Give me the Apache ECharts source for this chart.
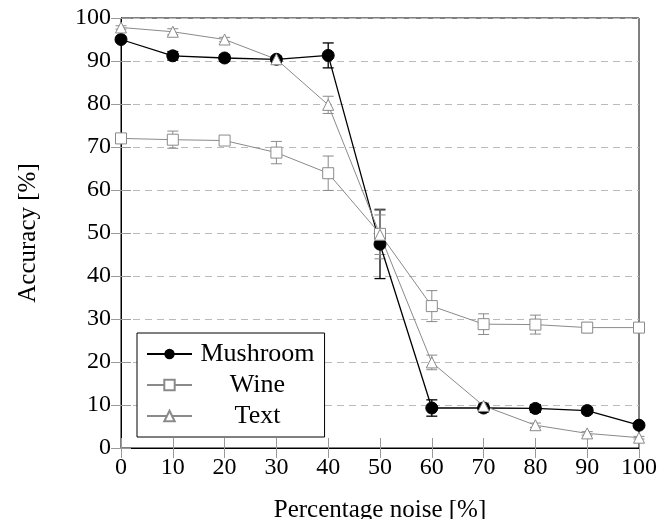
<!DOCTYPE html>
<html>
<head>
<meta charset="utf-8">
<script src="https://cdn.jsdelivr.net/npm/echarts@6/dist/echarts.min.js"></script>
<style>html,body{margin:0;padding:0;background:#fff}#c{width:672px;height:519px}</style>
</head>
<body>
<div id="c"></div>
<script>
const noise = [0, 10, 20, 30, 40, 50, 60, 70, 80, 90, 100];
const mushroom = [95.0, 91.2, 90.7, 90.4, 91.3, 47.4, 9.3, 9.3, 9.2, 8.7, 5.3];
const mushroomErr = [0.5, 1.0, 0.8, 0.6, 2.9, 8.0, 1.9, 0.9, 0.9, 0.7, 0.5];
const wine = [72.0, 71.7, 71.5, 68.7, 63.9, 49.8, 33.0, 28.8, 28.7, 28.0, 28.0];
const wineErr = [0.8, 2.0, 0.8, 2.6, 4.0, 5.8, 3.6, 2.4, 2.2, 1.2, 0.9];
const textAcc = [97.8, 96.8, 95.0, 90.4, 79.8, 49.6, 19.9, 9.8, 5.3, 3.4, 2.4];
const textErr = [0.4, 0.7, 0.5, 0.8, 2.0, 4.6, 1.7, 0.7, 0.5, 0.4, 0.3];
const seriesNames = ['Mushroom', 'Wine', 'Text'];
const xTitle = 'Percentage noise [%]';
const yTitle = 'Accuracy [%]';

const FONT = 'Liberation Serif';
const BLACK = '#000';
const GREY = '#8a8a8a';

function pts(vals) { return noise.map((x, i) => [x, vals[i]]); }
function errData(vals, errs) { return noise.map((x, i) => [x, vals[i], errs[i]]); }
function errSeries(name, vals, errs, color, lw) {
  return {
    type: 'custom', name: name + ' err', silent: true,
    data: errData(vals, errs), encode: { x: 0, y: 1 },
    renderItem: function (params, api) {
      const x = api.value(0), y = api.value(1), e = api.value(2);
      const t = api.coord([x, y + e]), b = api.coord([x, y - e]);
      const w = 5.5;
      const st = { stroke: color, lineWidth: lw, fill: null };
      return { type: 'group', children: [
        { type: 'line', shape: { x1: t[0], y1: t[1], x2: b[0], y2: b[1] }, style: st },
        { type: 'line', shape: { x1: t[0] - w, y1: t[1], x2: t[0] + w, y2: t[1] }, style: st },
        { type: 'line', shape: { x1: b[0] - w, y1: b[1], x2: b[0] + w, y2: b[1] }, style: st }
      ]};
    }
  };
}

const chart = echarts.init(document.getElementById('c'));
chart.setOption({
  animation: false,
  backgroundColor: '#fff',
  textStyle: { fontFamily: FONT },
  grid: { left: 121, right: 33, top: 18, bottom: 71, show: true, borderColor: BLACK, borderWidth: 1,
    outerBoundsMode: 'none', containLabel: false },
  legend: {
    data: seriesNames, orient: 'vertical', left: 137, top: 333,
    padding: [8, 10, 8, 9], itemGap: 5, itemWidth: 45, itemHeight: 13,
    backgroundColor: '#fff', borderColor: BLACK, borderWidth: 1,
    formatter: n => '{c|' + n + '}',
    textStyle: { fontFamily: FONT, fontSize: 26, color: BLACK,
      rich: { c: { width: 121, align: 'center', fontFamily: FONT, fontSize: 26, color: BLACK } } }
  },
  xAxis: [{
    type: 'value', min: 0, max: 100, interval: 10,
    name: xTitle, nameLocation: 'middle', nameGap: 50,
    nameTextStyle: { fontFamily: FONT, fontSize: 25, color: BLACK },
    axisLine: { lineStyle: { color: BLACK, width: 1 } },
    axisTick: { inside: true, length: 10, lineStyle: { color: '#999' } },
    axisLabel: { fontFamily: FONT, fontSize: 24, color: BLACK, margin: 8 },
    splitLine: { show: false }
  }, {
    type: 'value', min: 0, max: 100, interval: 10, position: 'top',
    axisLine: { show: false }, axisLabel: { show: false },
    axisTick: { inside: true, length: 10, lineStyle: { color: '#999' } },
    splitLine: { show: false }
  }],
  yAxis: [{
    type: 'value', min: 0, max: 100, interval: 10,
    name: yTitle, nameLocation: 'middle', nameGap: 80, nameRotate: 90,
    nameTextStyle: { fontFamily: FONT, fontSize: 25, color: BLACK },
    axisLine: { show: true, lineStyle: { color: BLACK, width: 1 } },
    axisTick: { show: true, inside: true, length: 10, lineStyle: { color: '#999' } },
    axisLabel: { fontFamily: FONT, fontSize: 24, color: BLACK, margin: 10 },
    splitLine: { show: true, lineStyle: { color: '#bbb', type: [7, 5], width: 1 } }
  }, {
    type: 'value', min: 0, max: 100, interval: 10, position: 'right',
    axisLine: { show: false }, axisLabel: { show: false },
    axisTick: { show: true, inside: true, length: 10, lineStyle: { color: '#999' } },
    splitLine: { show: false }
  }],
  series: [
    { type: 'line', name: seriesNames[0], data: pts(mushroom), symbol: 'circle', symbolSize: 12,
      lineStyle: { color: BLACK, width: 1.3 }, itemStyle: { color: BLACK, borderColor: BLACK } },
    errSeries(seriesNames[0], mushroom, mushroomErr, BLACK, 1.3),
    { type: 'line', name: seriesNames[1], data: pts(wine), symbol: 'rect', symbolSize: 11,
      lineStyle: { color: GREY, width: 1 }, itemStyle: { color: '#fff', borderColor: GREY, borderWidth: 1 } },
    errSeries(seriesNames[1], wine, wineErr, GREY, 1),
    { type: 'line', name: seriesNames[2], data: pts(textAcc), symbol: 'triangle', symbolSize: 11,
      lineStyle: { color: GREY, width: 1 }, itemStyle: { color: '#fff', borderColor: GREY, borderWidth: 1 } },
    errSeries(seriesNames[2], textAcc, textErr, GREY, 1)
  ]
});
</script>
</body>
</html>
